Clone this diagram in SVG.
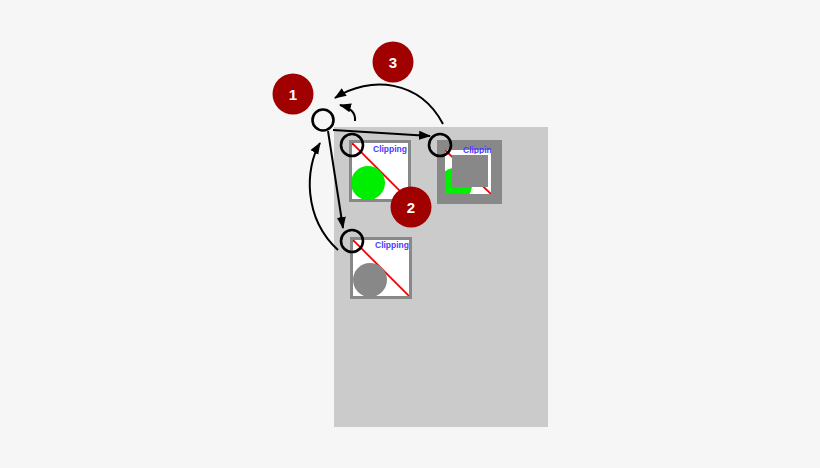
<svg xmlns="http://www.w3.org/2000/svg" width="820" height="468" viewBox="0 0 820 468">
  <style>
    .frame { fill: #ffffff; stroke: #888888; stroke-width: 3; }
    .diag { stroke: #ee0000; stroke-width: 1.8; }
    .lbl { font-family: "Liberation Sans", Arial, sans-serif; font-size: 8.5px; font-weight: bold; fill: #4a3cff; text-anchor: end; }
    .ring { fill: none; stroke: #000000; stroke-width: 2.6; }
    .badge { fill: #a00000; }
    .num { font-family: "Liberation Sans", Arial, sans-serif; font-size: 15px; font-weight: bold; fill: #ffffff; text-anchor: middle; }
    .conn { fill: none; stroke: #000000; stroke-width: 2; marker-end: url(#arrow); }
  </style>
  <defs>
    <marker id="arrow" markerWidth="12" markerHeight="10" refX="11" refY="5" orient="auto" markerUnits="userSpaceOnUse">
      <path d="M0,0.5 L12,5 L0,9.5 Z" fill="#000000"/>
    </marker>
    <clipPath id="clip1"><rect x="352" y="143" width="56" height="56"/></clipPath>
    <clipPath id="clip2"><rect x="445" y="150" width="46" height="44"/></clipPath>
    <clipPath id="clip2t"><rect x="437" y="146" width="54" height="8"/></clipPath>
    <clipPath id="clip3"><rect x="353" y="240" width="56" height="56"/></clipPath>
  </defs>

  <rect x="0" y="0" width="820" height="468" fill="#f6f6f6"/>
  <rect id="panel" x="334" y="127" width="214" height="300" fill="#cbcbcb"/>

  <g id="box1">
    <rect class="frame" x="350.5" y="141.5" width="59" height="59"/>
    <g clip-path="url(#clip1)">
      <line class="diag" x1="352" y1="143" x2="408" y2="199"/>
      <circle cx="368" cy="183" r="17" fill="#00ee00"/>
    </g>
    <text class="lbl" x="407" y="152">Clipping</text>
  </g>

  <g id="box2">
    <rect x="437" y="140" width="65" height="64" fill="#888888"/>
    <rect x="445" y="150" width="46" height="44" fill="#ffffff"/>
    <g clip-path="url(#clip2)">
      <line class="diag" x1="445" y1="150" x2="491" y2="194"/>
      <circle cx="455" cy="185" r="17" fill="#00ee00"/>
    </g>
    <rect x="452" y="155" width="36" height="32" fill="#888888"/>
    <g clip-path="url(#clip2t)">
      <text class="lbl" x="497" y="153">Clipping</text>
    </g>
  </g>

  <g id="box3">
    <rect class="frame" x="351.5" y="238.5" width="59" height="59"/>
    <g clip-path="url(#clip3)">
      <line class="diag" x1="353" y1="240" x2="409" y2="296"/>
      <circle cx="370" cy="280" r="17" fill="#888888"/>
    </g>
    <text class="lbl" x="409" y="248">Clipping</text>
  </g>

  <g id="connectors">
    <line class="conn" x1="333" y1="130" x2="430" y2="136"/>
    <line class="conn" x1="328" y1="131" x2="343" y2="228"/>
    <path class="conn" d="M338,250 C303,218 305,168 320,143"/>
    <path class="conn" d="M443,124 C420,80 370,75 335,98"/>
    <path class="conn" d="M355,121 C356,113 351,108 340,105"/>
  </g>

  <g id="node-root"><circle class="ring" cx="323" cy="120" r="10.5"/></g>
  <g id="node-box1"><circle class="ring" cx="352" cy="145" r="11"/></g>
  <g id="node-box2"><circle class="ring" cx="440" cy="145" r="11"/></g>
  <g id="node-box3"><circle class="ring" cx="352" cy="241" r="11"/></g>

  <g id="badge1">
    <circle class="badge" cx="293" cy="94" r="20.5"/>
    <text class="num" x="293" y="99.5">1</text>
  </g>
  <g id="badge2">
    <circle class="badge" cx="411" cy="207" r="20.5"/>
    <text class="num" x="411" y="212.5">2</text>
  </g>
  <g id="badge3">
    <circle class="badge" cx="393" cy="62" r="20.5"/>
    <text class="num" x="393" y="67.5">3</text>
  </g>
</svg>
